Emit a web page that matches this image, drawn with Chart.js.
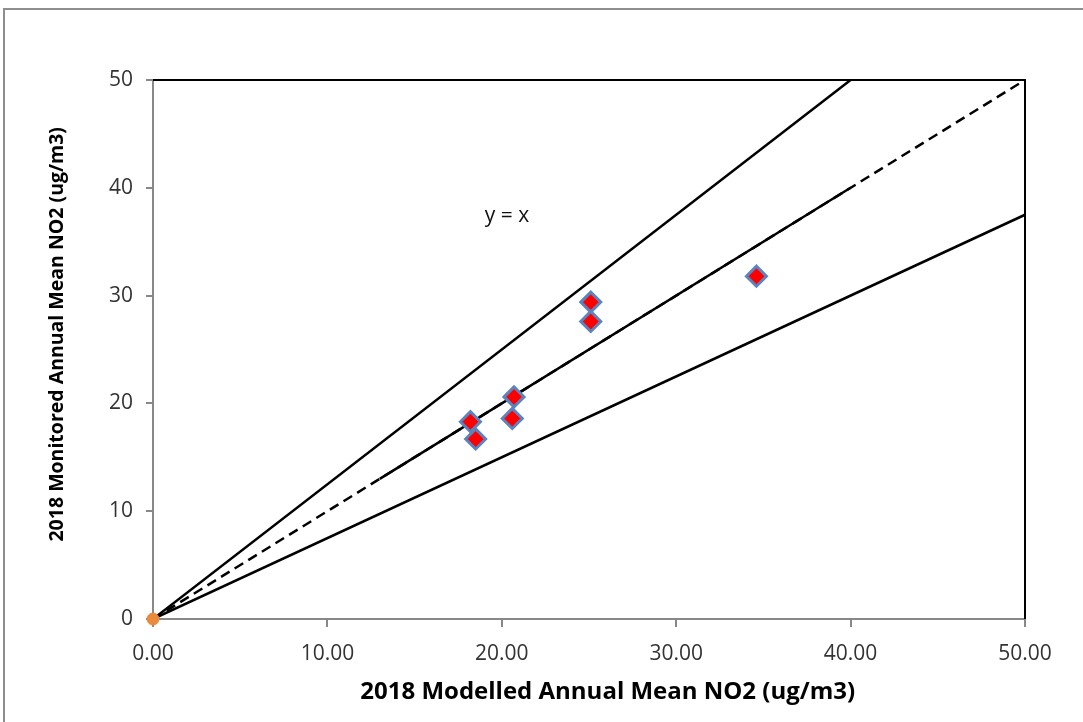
<!DOCTYPE html>
<html>
<head>
<meta charset="utf-8">
<script src="https://cdn.jsdelivr.net/npm/chart.js@4.4.1/dist/chart.umd.min.js"></script>
<style>
body{margin:0;background:#fff;overflow:hidden}
#frame{position:absolute;left:3px;top:8px;width:1200px;height:800px;border:2px solid #8e8e8e}
#wrap{position:absolute;left:0;top:0;width:1083px;height:722px}
</style>
</head>
<body>
<div id="frame"></div>
<div id="wrap"><canvas id="chart" width="1083" height="722"></canvas></div>
<script>
// monitored vs modelled NO2 per site
const modelled  = [18.2, 18.5, 20.7, 20.6, 25.1, 25.1, 34.6]
const monitored = [18.3, 16.7, 20.6, 18.6, 29.4, 27.6, 31.8]
const originX = [0], originY = [0]

// guide lines
const upperX = [0, 40], upperY = [0, 50]     // +25%
const lowerX = [0, 50], lowerY = [0, 37.5]   // -25%
const oneX = [0, 50], oneY = [0, 50]         // y = x (dashed)
const midX = [13, 40], midY = [13, 40]       // solid part over it

const xTicks = [0, 10, 20, 30, 40, 50]
const yTicks = [0, 10, 20, 30, 40, 50]

const labelPos = {x: 20.3, y: 37.4, text: "y = x"}

const FONT = 'Open Sans'

function pts(xs, ys){ return xs.map((x,i) => ({x, y: ys[i]})) }

function lineSet(xs, ys, dash){
    return {
        data: pts(xs, ys),
        showLine: true,
        borderColor: '#000',
        borderWidth: 2.5,
        borderDash: dash || [],
        pointRadius: 0,
        order: 5
    }
}

// black top/right edge + text label
const extras = {
    id: 'extras',
    afterDatasetsDraw(chart){
        const {ctx, chartArea: a, scales} = chart
        ctx.save()
        ctx.strokeStyle = '#000'
        ctx.lineWidth = 2
        ctx.beginPath()
        ctx.moveTo(a.left, a.top)
        ctx.lineTo(a.right, a.top)
        ctx.lineTo(a.right, a.bottom)
        ctx.stroke()
        ctx.fillStyle = '#111'
        ctx.font = '21px ' + FONT
        ctx.textAlign = 'center'
        ctx.textBaseline = 'middle'
        ctx.fillText(labelPos.text, scales.x.getPixelForValue(labelPos.x), scales.y.getPixelForValue(labelPos.y))
        ctx.restore()
    }
}

new Chart(document.getElementById('chart'), {
    type: 'scatter',
    data: {
        datasets: [
            {
                data: pts(modelled, monitored),
                pointStyle: 'rectRot',
                pointRadius: 10,
                pointBackgroundColor: '#ff0000',
                pointBorderColor: '#5b84be',
                pointBorderWidth: 3,
                order: 1
            },
            {
                data: pts(originX, originY),
                pointStyle: 'circle',
                pointRadius: 6,
                pointBackgroundColor: '#ea8a3c',
                pointBorderColor: '#ea8a3c',
                clip: false,
                order: 2
            },
            lineSet(upperX, upperY),
            lineSet(lowerX, lowerY),
            lineSet(oneX, oneY, [10, 6]),
            lineSet(midX, midY)
        ]
    },
    options: {
        responsive: false,
        animation: false,
        layout: {padding: {top: 80, right: 58, left: 0, bottom: 0}},
        plugins: {legend: {display: false}, tooltip: {enabled: false}},
        scales: {
            x: {
                type: 'linear', min: 0, max: 50,
                afterBuildTicks: s => { s.ticks = xTicks.map(v => ({value: v})) },
                afterFit: s => { s.height = 103 },
                ticks: {
                    callback: v => v.toFixed(2),
                    font: {family: FONT, size: 21},
                    color: '#333',
                    padding: 14,
                    maxRotation: 0
                },
                grid: {drawOnChartArea: false, color: '#888', tickLength: 8, lineWidth: 2},
                border: {color: '#888', width: 2},
                title: {
                    display: true,
                    text: '      2018 Modelled Annual Mean NO2 (ug/m3)',
                    font: {family: FONT, size: 24, weight: 'bold'},
                    color: '#000',
                    padding: {bottom: 15}
                }
            },
            y: {
                type: 'linear', min: 0, max: 50,
                afterBuildTicks: s => { s.ticks = yTicks.map(v => ({value: v})) },
                afterFit: s => { s.width = 153 },
                ticks: {
                    font: {family: FONT, size: 21},
                    color: '#333',
                    padding: 13
                },
                grid: {drawOnChartArea: false, color: '#888', tickLength: 7, lineWidth: 2},
                border: {color: '#888', width: 2},
                title: {
                    display: true,
                    text: '      2018 Monitored Annual Mean NO2 (ug/m3)',
                    font: {family: FONT, size: 19.5, weight: 'bold'},
                    color: '#000',
                    padding: {top: 46}
                }
            }
        }
    },
    plugins: [extras]
})
</script>
</body>
</html>
